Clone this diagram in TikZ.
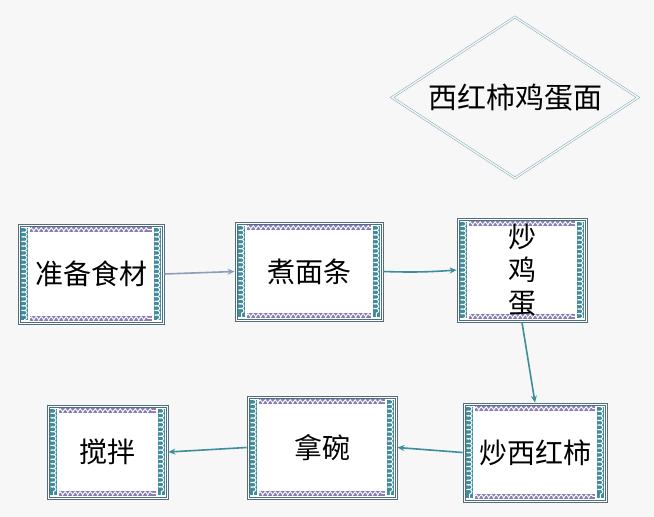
\documentclass[tikz,border=0pt]{standalone}
\usepackage{fontspec}
\setmainfont{Noto Sans CJK SC}
\usetikzlibrary{arrows.meta,decorations.pathmorphing}

\definecolor{bgcol}{HTML}{F7F7F7}
\definecolor{ropeteal}{HTML}{3E8C9C}
\definecolor{ropepurple}{HTML}{8A7DB5}
\definecolor{framecol}{HTML}{4F6F7C}
\definecolor{linkteal}{HTML}{3D8E9C}
\definecolor{linkgray}{HTML}{8E9DB8}
\definecolor{diamcol}{HTML}{7FA8B4}

\tikzset{
  stepbox/.style={draw=framecol, fill=white, line width=0.8pt, inner sep=0pt},
  steptext/.style={font=\fontsize{28}{33}\selectfont, align=center},
  ropeside/.style={ropeteal, line width=7pt},
  ropesidecoil/.style={white, line width=0.9pt, decorate,
    decoration={coil, aspect=0.5, segment length=4.6pt, amplitude=2.4pt}},
  ropetop/.style={ropepurple, line width=5pt},
  ropetopcoil/.style={white, line width=0.9pt, decorate,
    decoration={coil, aspect=0.2, segment length=5pt, amplitude=1.8pt}},
  link/.style={linkteal, line width=1.6pt, -{Stealth[length=7pt,width=6pt]}},
}

% decorative rope frame inside a box
\newcommand{\ropeframe}[1]{%
  \draw[framecol, line width=0.4pt] ([xshift=2.5pt,yshift=-2.5pt]#1.north west) rectangle ([xshift=-2.5pt,yshift=2.5pt]#1.south east);
  \draw[ropetop] ([xshift=12pt,yshift=-6pt]#1.north west) -- ([xshift=-12pt,yshift=-6pt]#1.north east);
  \draw[ropetopcoil] ([xshift=12pt,yshift=-6pt]#1.north west) -- ([xshift=-12pt,yshift=-6pt]#1.north east);
  \draw[ropetop] ([xshift=12pt,yshift=6pt]#1.south west) -- ([xshift=-12pt,yshift=6pt]#1.south east);
  \draw[ropetopcoil] ([xshift=12pt,yshift=6pt]#1.south west) -- ([xshift=-12pt,yshift=6pt]#1.south east);
  \draw[ropeside] ([xshift=7pt,yshift=-4pt]#1.north west) -- ([xshift=7pt,yshift=4pt]#1.south west);
  \draw[ropesidecoil] ([xshift=7pt,yshift=-4pt]#1.north west) -- ([xshift=7pt,yshift=4pt]#1.south west);
  \draw[ropeside] ([xshift=-7pt,yshift=-4pt]#1.north east) -- ([xshift=-7pt,yshift=4pt]#1.south east);
  \draw[ropesidecoil] ([xshift=-7pt,yshift=-4pt]#1.north east) -- ([xshift=-7pt,yshift=4pt]#1.south east);
}

\begin{document}
\begin{tikzpicture}[x=1pt, y=-1pt]
  \useasboundingbox[fill=bgcol] (0,0) rectangle (654,517);

  % title
  \node[font=\fontsize{29}{33}\selectfont] (title) at (515,97.5) {西红柿鸡蛋面};
  \draw[diamcol, line width=0.5pt, double=bgcol, double distance=1.4pt, line join=miter]
    ([xshift=-123pt]title.center) -- ([yshift=80.5pt]title.center)
    -- ([xshift=123pt]title.center) -- ([yshift=-80.5pt]title.center) -- cycle;

  % steps
  \node[stepbox, minimum width=146pt, minimum height=100pt] (prep) at (91,274) {};
  \node[stepbox, minimum width=148pt, minimum height=99pt] (boil) at (309,271.5) {};
  \node[stepbox, minimum width=130pt, minimum height=104pt] (egg) at (522,270) {};
  \node[stepbox, minimum width=144pt, minimum height=99pt] (tomato) at (535,452.5) {};
  \node[stepbox, minimum width=150pt, minimum height=103pt] (bowl) at (322,447.5) {};
  \node[stepbox, minimum width=121pt, minimum height=94pt] (mix) at (107.5,452) {};

  \ropeframe{prep}
  \ropeframe{boil}
  \ropeframe{egg}
  \ropeframe{tomato}
  \ropeframe{bowl}
  \ropeframe{mix}

  % texts over the rope
  \node[steptext] at (prep) {准备食材};
  \node[steptext] at (boil) {煮面条};
  \node[steptext] at (egg) {炒\\鸡\\蛋};
  \node[steptext] at (tomato) {炒西红柿};
  \node[steptext] at (bowl) {拿碗};
  \node[steptext] at (mix) {搅拌};

  % links
  \draw[link, linkgray] (prep.east) -- (boil.west);
  \draw[link] (boil.east) to[bend right=3] (egg.west);
  \draw[link] (egg.south) -- (tomato.north);
  \draw[link] (tomato.west) -- (bowl.east);
  \draw[link] (bowl.west) -- (mix.east);
\end{tikzpicture}
\end{document}
